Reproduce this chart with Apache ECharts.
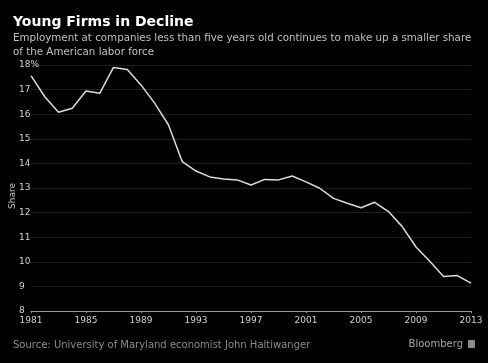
<!DOCTYPE html>
<html><head><meta charset="utf-8">
<script src="https://cdn.jsdelivr.net/npm/echarts@6/dist/echarts.min.js"></script>
<style>html,body{margin:0;padding:0;background:#000;}#c{width:488px;height:363px;}</style>
</head><body><div id="c"></div>
<script>
const years = ['1981','1982','1983','1984','1985','1986','1987','1988','1989','1990','1991','1992','1993','1994','1995','1996','1997','1998','1999','2000','2001','2002','2003','2004','2005','2006','2007','2008','2009','2010','2011','2012','2013'];
const share = [17.57,16.71,16.08,16.24,16.94,16.85,17.9,17.82,17.19,16.44,15.56,14.07,13.69,13.45,13.37,13.33,13.12,13.35,13.33,13.49,13.25,12.99,12.58,12.38,12.2,12.42,12.04,11.43,10.6,10.02,9.4,9.44,9.13];
const yTicks = {min: 8, max: 18, interval: 1};
const font = 'DejaVu Sans';
const chart = echarts.init(document.getElementById('c'));
chart.setOption({
  backgroundColor: '#000',
  animation: false,
  title: [
    {text: 'Young Firms in Decline', left: 13, top: 15, padding: 0, textStyle: {color: '#fff', fontFamily: font, fontWeight: 'bold', fontSize: 14}},
    {text: 'Employment at companies less than five years old continues to make up a smaller share\nof the American labor force', left: 13, top: 31, padding: 0, textStyle: {color: '#c0c0c0', fontFamily: font, fontWeight: 'normal', fontSize: 10.3, lineHeight: 14}},
    {text: 'Source: University of Maryland economist John Haltiwanger', left: 13, top: 340, padding: 0, textStyle: {color: '#8c8c8c', fontFamily: font, fontWeight: 'normal', fontSize: 10}},
    {text: 'Bloomberg', right: 25, top: 339, padding: 0, textStyle: {color: '#a6a6a6', fontFamily: font, fontWeight: 'normal', fontSize: 10}}
  ],
  graphic: [
    {type: 'rect', right: 13, top: 340, shape: {width: 7, height: 8, r: 1}, style: {fill: '#8c8c8c'}}
  ],
  grid: {left: 31, right: 17, top: 65, bottom: 52, outerBoundsMode: 'none', containLabel: false},
  xAxis: {
    type: 'category', data: years, boundaryGap: false,
    axisLine: {lineStyle: {color: '#9a9a9a', width: 1}},
    axisTick: {show: true, interval: 3, length: 2, lineStyle: {color: '#9a9a9a'}},
    axisLabel: {interval: 3, color: '#d0d0d0', fontFamily: font, fontSize: 9, margin: 5},
    splitLine: {show: false}
  },
  yAxis: {
    type: 'value', min: yTicks.min, max: yTicks.max, interval: yTicks.interval,
    name: 'Share', nameLocation: 'middle', nameGap: 14, nameRotate: 90, nameMoveOverlap: false,
    nameTextStyle: {color: '#c0c0c0', fontFamily: font, fontSize: 9, padding: [0,0,0,-16]},
    axisLine: {show: false}, axisTick: {show: false},
    axisLabel: {color: '#d0d0d0', fontFamily: font, fontSize: 9, align: 'left', margin: 12,
      formatter: v => v === 18 ? '18%' : String(v)},
    splitLine: {lineStyle: {color: '#1e1e1e', width: 1}}
  },
  series: [{
    type: 'line', data: share, symbol: 'none',
    lineStyle: {color: '#dcdcdc', width: 1.5}
  }]
});
</script></body></html>
